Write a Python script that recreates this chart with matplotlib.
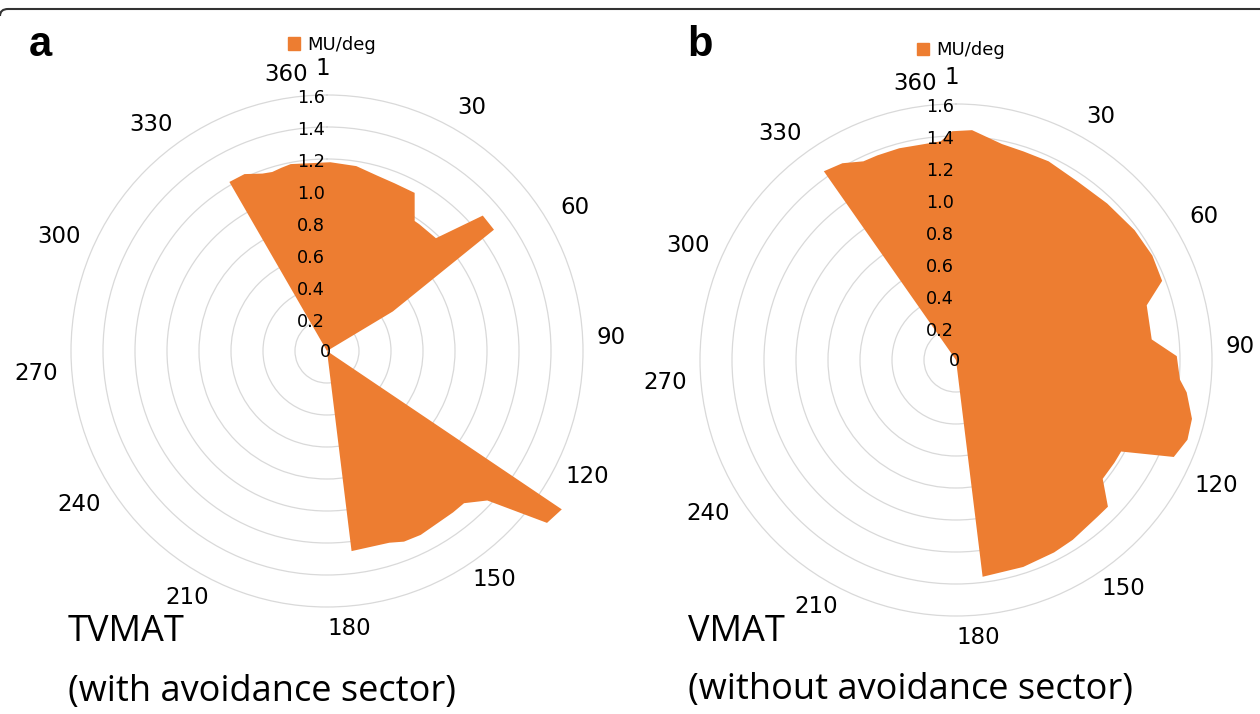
import numpy as np
import matplotlib.pyplot as plt
from matplotlib.patches import Patch, PathPatch
from matplotlib.path import Path
from matplotlib.transforms import offset_copy

ORANGE = '#ED7D31'
GRID = '#d9d9d9'

# gantry angle (category 1..360) and MU/deg at the corners of each outline
tvmat_deg = [330, 331, 336, 341, 344, 347, 350, 2, 10, 17, 23, 30, 35, 37, 45, 50, 55, 60, 63,
             124, 125, 129, 134, 139, 143, 154, 159, 163, 174, 175]
tvmat_mu = [0, 1.22, 1.22, 1.18, 1.17, 1.18, 1.19, 1.18, 1.17, 1.14, 1.13, 1.13, 0.98, 0.98, 0.98,
            1.29, 1.29, 0.48, 0,
            0, 1.77, 1.745, 1.37, 1.28, 1.28, 1.29, 1.285, 1.26, 1.26, 0]

vmat_deg = [325, 326, 331, 336, 340, 346, 357, 360, 5, 13, 19, 26, 35, 45, 55, 63, 70, 75, 85,
            90, 96, 99, 105, 110, 115, 120, 124, 130, 135, 139, 148, 154, 163, 174, 175]
vmat_mu = [0, 1.44, 1.42, 1.37, 1.37, 1.37, 1.37, 1.43, 1.44, 1.38, 1.37, 1.37, 1.35, 1.36, 1.38,
           1.39, 1.38, 1.24, 1.23, 1.38, 1.405, 1.456, 1.52, 1.53, 1.49, 1.18, 1.18, 1.18, 1.32,
           1.32, 1.34, 1.35, 1.36, 1.365, 0]

cat_ticks = [1, 30, 60, 90, 120, 150, 180, 210, 240, 270, 300, 330, 360]
r_ticks = [0, 0.2, 0.4, 0.6, 0.8, 1.0, 1.2, 1.4, 1.6]

# where Excel put the category labels (screen angle, radius)
label_theta = [-0.8, 30.8, 59.9, 87.2, 115.7, 143.8, 175.5, 209.6, 238.2, 265.5, 293.2, 322.2, -8.4]
label_r = [1.763, 1.769, 1.793, 1.777, 1.803, 1.766, 1.737, 1.769, 1.825, 1.824, 1.823, 1.795, 1.75]


def radar(fig, rect, deg, mu):
    ax = fig.add_axes(rect, projection='polar')
    ax.set_theta_zero_location('N')
    ax.set_theta_direction(-1)
    ax.patch.set_alpha(0)
    theta = np.deg2rad(np.array(deg) - 1)
    ax.fill(theta, mu, color=ORANGE, lw=0, clip_on=False, zorder=3)
    ax.set_ylim(0, 1.6)
    ax.set_yticks(r_ticks[1:-1])
    ax.set_xticks([])
    ax.yaxis.grid(True, color=GRID, lw=0.9)
    ax.spines['polar'].set_color(GRID)
    ax.spines['polar'].set_linewidth(0.9)
    ax.set_yticklabels([])

    for lab, th, r in zip(cat_ticks, label_theta, label_r):
        ax.text(np.deg2rad(th), r, str(lab), ha='center', va='center',
                fontsize=16.5, clip_on=False)

    tr = offset_copy(ax.transData, fig=fig, x=-2, y=-3, units='dots')
    for v in r_ticks:
        if v == 0:
            ax.text(0, 0, '0', ha='center', va='center', fontsize=12.7, zorder=4,
                    transform=offset_copy(ax.transData, fig=fig, x=-2, y=-1, units='dots'))
        else:
            ax.text(0, v, f'{v:.1f}', ha='right', va='center', fontsize=12.7,
                    zorder=4, transform=tr)
    return ax


fig = plt.figure(figsize=(12.6, 7.14), dpi=100)

# frame line along the top of the figure, rounding off at the left corner
W, H = 1260, 714
frame_px = [(0, 16), (0, 9), (8, 9), (W + 5, 9)]
frame = PathPatch(Path([(x / W, 1 - y / H) for x, y in frame_px],
                       [Path.MOVETO, Path.CURVE3, Path.CURVE3, Path.LINETO]),
                  transform=fig.transFigure, fill=False, ec='#333333', lw=1.5)
fig.patches.append(frame)

ax1 = radar(fig, [71 / W, 1 - 607 / H, 512 / W, 512 / H], tvmat_deg, tvmat_mu)
ax2 = radar(fig, [700 / W, 1 - 616 / H, 512 / W, 512 / H], vmat_deg, vmat_mu)

for ax, y in [(ax1, 1.098), (ax2, 1.105)]:
    ax.legend(handles=[Patch(color=ORANGE)], labels=['MU/deg'], loc='center',
              bbox_to_anchor=(0.51, y), frameon=False, fontsize=13,
              handlelength=0.7, handleheight=0.7, handletextpad=0.4)

fig.text(40 / W, 1 - 45 / H, 'a', fontsize=30, fontweight='bold',
         family='Liberation Sans', ha='center', va='center')
fig.text(700 / W, 1 - 45 / H, 'b', fontsize=30, fontweight='bold',
         family='Liberation Sans', ha='center', va='center')

fig.text(68 / W, 1 - 632 / H, 'TVMAT', fontsize=26, family='Open Sans', va='center')
fig.text(68 / W, 1 - 692 / H, '(with avoidance sector)', fontsize=26,
         family='Open Sans', va='center')
fig.text(688 / W, 1 - 632 / H, 'VMAT', fontsize=26, family='Open Sans', va='center')
fig.text(688 / W, 1 - 690 / H, '(without avoidance sector)', fontsize=26,
         family='Open Sans', va='center')

fig.savefig('out.png', dpi=100)
